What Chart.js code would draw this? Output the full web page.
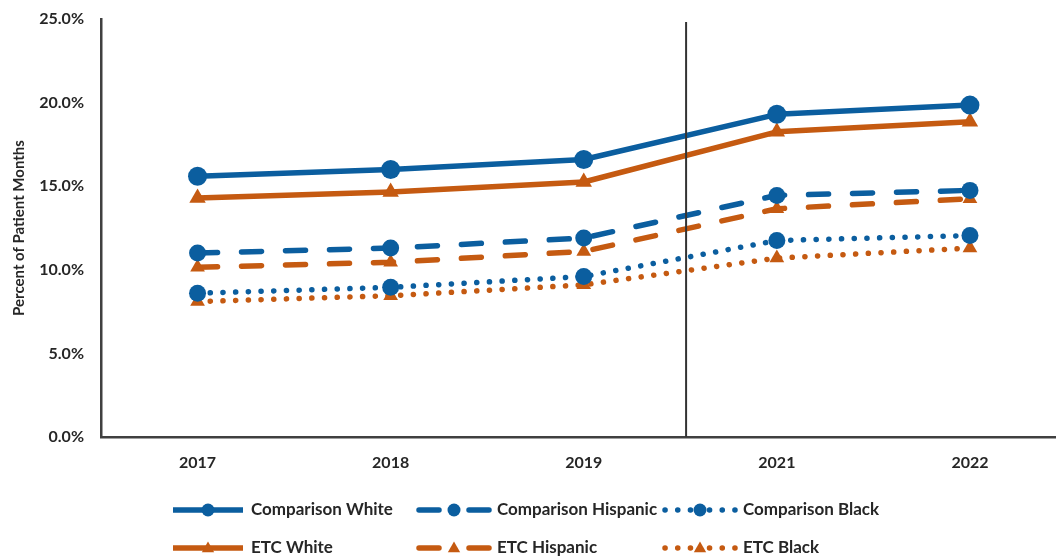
<!DOCTYPE html>
<html>
<head>
<meta charset="utf-8">
<script src="https://cdn.jsdelivr.net/npm/chart.js@4/dist/chart.umd.min.js"></script>
<style>
  html, body { margin: 0; padding: 0; background: #fff; overflow: hidden; }
  #wrap { width: 1056px; height: 558px; overflow: hidden; }
</style>
</head>
<body>
<div id="wrap"><canvas id="rates" width="1076" height="558"></canvas></div>
<script>
const years = ['2017', '2018', '2019', '2021', '2022']
const yTicks = [0, 5, 10, 15, 20, 25]

const compWhite = [15.6, 16.0, 16.6, 19.3, 19.85]
const compHispanic = [11.0, 11.3, 11.9, 14.45, 14.75]
const compBlack = [8.6, 8.95, 9.6, 11.75, 12.05]
const etcWhite = [14.3, 14.65, 15.25, 18.25, 18.85]
const etcHispanic = [10.15, 10.45, 11.1, 13.65, 14.25]
const etcBlack = [8.1, 8.45, 9.1, 10.7, 11.3]

const BLUE = '#0B5E9F'
const ORANGE = '#C55A11'
const INK = '#262626'
const FONT = 'Lato, "Open Sans", sans-serif'

const DASH = [20, 24]
const DOT = [0.1, 12.6]

function series(label, data, color, dash, pointStyle, radius) {
    return {
        label: label,
        data: data,
        borderColor: color,
        backgroundColor: color,
        borderWidth: 5.5,
        borderDash: dash,
        borderCapStyle: dash.length ? 'round' : 'butt',
        borderJoinStyle: 'round',
        pointStyle: pointStyle,
        pointRadius: radius,
        pointBorderWidth: 0,
        pointBackgroundColor: color,
        tension: 0
    }
}

// vertical divider between 2019 and 2021, plus the rotated axis title
const divider = {
    id: 'divider',
    afterDatasetsDraw(chart, args, opts) {
        const { ctx, chartArea } = chart
        const x = chart.scales.x.getPixelForValue(opts.at)
        ctx.save()
        ctx.strokeStyle = '#333'
        ctx.lineWidth = 2
        ctx.beginPath()
        ctx.moveTo(x, chartArea.top + 3)
        ctx.lineTo(x, chartArea.bottom)
        ctx.stroke()

        ctx.translate(opts.titleX, (chartArea.top + chartArea.bottom) / 2)
        ctx.rotate(-Math.PI / 2)
        ctx.fillStyle = INK
        ctx.font = 'bold 15px ' + FONT
        ctx.textAlign = 'center'
        ctx.textBaseline = 'middle'
        ctx.fillText(opts.title, 0, 0)
        ctx.restore()
    }
}

function drawMarker(ctx, style, x, y, r) {
    ctx.beginPath()
    if (style === 'triangle') {
        ctx.moveTo(x, y - r)
        ctx.lineTo(x + r * 0.95, y + r * 0.65)
        ctx.lineTo(x - r * 0.95, y + r * 0.65)
        ctx.closePath()
    } else {
        ctx.arc(x, y, r, 0, Math.PI * 2)
    }
    ctx.fill()
}

// legend laid out as a 3 x 2 grid
const gridLegend = {
    id: 'gridLegend',
    afterDraw(chart, args, opts) {
        const ctx = chart.ctx
        chart.data.datasets.forEach((ds, i) => {
            const x0 = opts.cols[i % 3]
            const y = opts.rows[Math.floor(i / 3)]
            const x1 = x0 + opts.sample
            const mid = (x0 + x1) / 2
            ctx.save()
            ctx.strokeStyle = ds.borderColor
            ctx.fillStyle = ds.borderColor
            ctx.lineWidth = 5.5
            ctx.lineCap = ds.borderDash.length ? 'round' : 'butt'
            ctx.setLineDash(ds.borderDash)
            ctx.beginPath()
            ctx.moveTo(x0, y)
            ctx.lineTo(mid, y)
            ctx.moveTo(x1, y)
            ctx.lineTo(mid, y)
            ctx.stroke()
            ctx.setLineDash([])
            drawMarker(ctx, ds.pointStyle, mid, y, 6.5)
            ctx.fillStyle = INK
            ctx.font = 'bold 17px ' + FONT
            ctx.textBaseline = 'middle'
            ctx.textAlign = 'left'
            ctx.fillText(ds.label, x1 + 8, y)
            ctx.restore()
        })
    }
}

new Chart(document.getElementById('rates'), {
    type: 'line',
    data: {
        labels: years,
        datasets: [
            series('Comparison White', compWhite, BLUE, [], 'circle', 9.5),
            series('Comparison Hispanic', compHispanic, BLUE, DASH, 'circle', 8.5),
            series('Comparison Black', compBlack, BLUE, DOT, 'circle', 8.5),
            series('ETC White', etcWhite, ORANGE, [], 'triangle', 9.5),
            series('ETC Hispanic', etcHispanic, ORANGE, DASH, 'triangle', 8.5),
            series('ETC Black', etcBlack, ORANGE, DOT, 'triangle', 8.5)
        ]
    },
    options: {
        responsive: false,
        animation: false,
        layout: { padding: { top: 19, left: 0, right: 0, bottom: 0 } },
        plugins: {
            legend: { display: false },
            tooltip: { enabled: false },
            divider: { at: 2.53, title: 'Percent of Patient Months', titleX: 19 },
            gridLegend: { cols: [173, 419, 665], rows: [510, 548], sample: 70 }
        },
        scales: {
            x: {
                offset: true,
                grid: { display: false, drawTicks: false },
                border: { display: true, color: '#404040', width: 2.5 },
                ticks: { color: INK, font: { family: FONT, size: 16, weight: 'bold' }, padding: 16 },
                afterFit: (s) => { s.height = 121; s.paddingLeft = 0; s.paddingRight = 0 }
            },
            y: {
                min: 0,
                max: 25,
                afterBuildTicks: (s) => { s.ticks = yTicks.map(v => ({ value: v })) },
                grid: { display: false, drawTicks: false },
                border: { display: true, color: '#404040', width: 2.5 },
                ticks: {
                    color: INK,
                    font: { family: FONT, size: 16, weight: 'bold' },
                    padding: 17,
                    callback: (v) => v.toFixed(1) + '%'
                },
                afterFit: (s) => { s.width = 101; s.paddingTop = 0; s.paddingBottom = 0 }
            }
        }
    },
    plugins: [divider, gridLegend]
});
</script>
</body>
</html>
